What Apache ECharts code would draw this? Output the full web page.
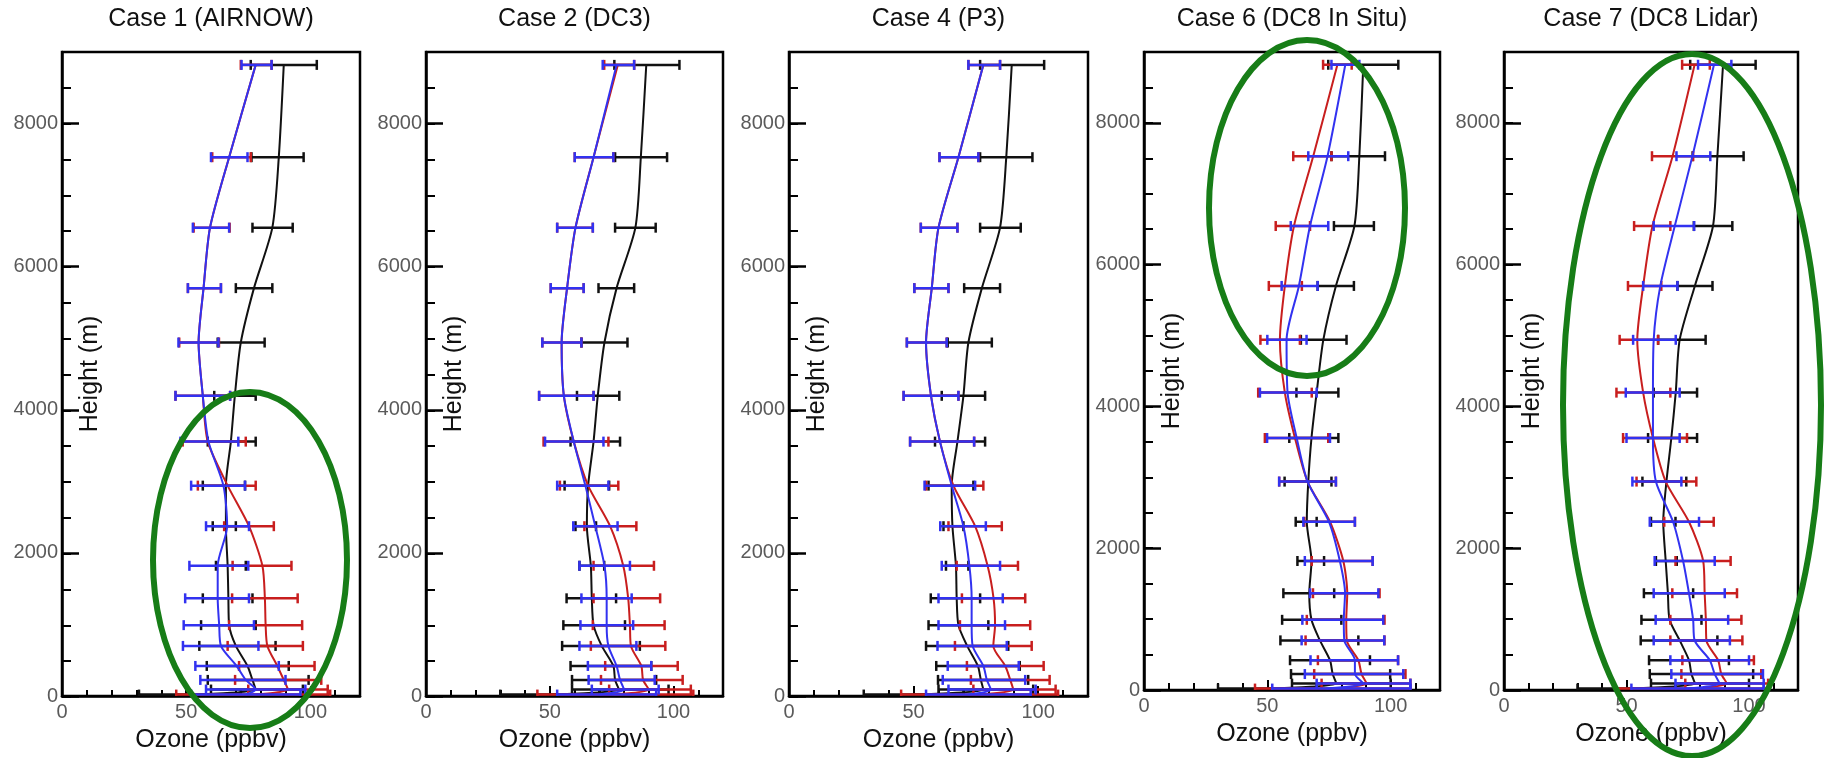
<!DOCTYPE html>
<html><head><meta charset="utf-8">
<script src="https://cdn.jsdelivr.net/npm/echarts@6/dist/echarts.min.js"></script>
<style>html,body{margin:0;padding:0;background:#fff}#c{width:1830px;height:758px}</style>
</head><body><div id="c"></div>
<script>
// ---------- DATA ----------
const heights = [8820, 7530, 6545, 5700, 4940, 4195, 3555, 2940, 2373, 1820, 1365, 990, 700, 420, 225, 90, 20];
const titles = ['Case 1 (AIRNOW)', 'Case 2 (DC3)', 'Case 4 (P3)', 'Case 6 (DC8 In Situ)', 'Case 7 (DC8 Lidar)'];
const xName = 'Ozone (ppbv)';
const yName = 'Height (m)';

// Case 1 (AIRNOW)
const c1ObsMean  = [89.3, 87.3, 84.7, 77.3, 72.0, 69.6, 68.0, 66.0, 66.0, 66.7, 67.0, 67.3, 70.0, 74.7, 76.7, 78.0, 52.0];
const c1ObsLo    = [76.0, 76.3, 76.7, 70.0, 62.7, 61.3, 58.7, 56.7, 60.7, 62.0, 56.7, 56.0, 55.3, 58.3, 58.7, 60.0, 31.0];
const c1ObsHi    = [102.6, 97.3, 92.9, 84.7, 81.6, 78.0, 78.0, 73.7, 70.0, 74.0, 76.7, 78.0, 86.0, 91.3, 99.3, 97.0, 72.0];
const c1RedMean  = [78.0, 67.3, 59.6, 57.0, 55.0, 56.7, 58.7, 66.7, 75.3, 80.7, 81.7, 82.0, 82.7, 86.7, 89.3, 91.0, 77.0];
const c1RedLo    = [72.0, 60.5, 53.0, 50.7, 47.2, 45.7, 48.6, 54.7, 65.3, 68.7, 68.5, 67.3, 66.7, 71.3, 69.7, 75.0, 46.0];
const c1RedHi    = [84.4, 76.0, 67.5, 64.0, 63.2, 67.7, 74.0, 78.0, 85.3, 92.4, 94.9, 96.7, 97.0, 101.7, 104.4, 107.0, 108.0];
const c1BlueMean = [78.0, 67.3, 59.6, 57.0, 55.0, 56.7, 59.0, 65.0, 66.5, 62.7, 62.7, 63.3, 64.0, 70.3, 74.0, 78.0, 74.0];
const c1BlueLo   = [72.3, 60.0, 52.7, 50.7, 46.9, 45.7, 47.7, 52.0, 58.0, 51.3, 49.6, 49.0, 48.7, 53.7, 55.7, 58.0, 52.0];
const c1BlueHi   = [84.4, 74.7, 67.3, 64.0, 63.0, 67.7, 71.0, 73.7, 75.3, 75.0, 75.3, 77.3, 79.1, 87.3, 90.0, 98.0, 96.0];

// Case 2 (DC3)
const c2ObsMean  = [89.0, 86.8, 84.6, 77.0, 72.1, 69.4, 67.7, 65.5, 65.0, 66.6, 67.0, 67.7, 71.0, 75.7, 76.4, 78.0, 50.0];
const c2ObsLo    = [76.1, 76.4, 76.4, 69.7, 62.8, 61.0, 58.4, 56.0, 60.4, 62.0, 56.8, 55.5, 55.0, 58.4, 59.0, 59.0, 30.0];
const c2ObsHi    = [102.4, 97.4, 92.8, 84.1, 81.4, 78.1, 78.4, 74.0, 68.7, 72.0, 76.8, 80.4, 86.4, 91.0, 93.0, 98.0, 70.0];
const c2RedMean  = [77.5, 67.7, 60.4, 57.0, 54.8, 55.7, 59.7, 65.5, 74.4, 79.7, 81.7, 82.4, 82.8, 87.0, 87.7, 90.0, 76.0];
const c2RedLo    = [72.0, 60.1, 53.0, 50.4, 47.0, 45.7, 47.5, 54.1, 64.0, 67.7, 67.7, 67.4, 66.6, 72.4, 70.7, 74.0, 45.0];
const c2RedHi    = [84.1, 75.7, 67.4, 63.7, 62.8, 67.7, 73.7, 77.7, 85.0, 92.1, 94.6, 96.4, 96.7, 101.7, 103.7, 107.0, 108.0];
const c2BlueMean = [77.0, 67.7, 60.4, 57.0, 54.8, 55.7, 59.7, 64.4, 68.4, 72.1, 73.0, 73.0, 73.7, 77.0, 78.4, 80.0, 70.0];
const c2BlueLo   = [71.4, 60.1, 53.0, 50.4, 47.0, 45.7, 48.1, 53.0, 59.5, 62.0, 62.8, 62.4, 62.0, 65.4, 65.7, 67.0, 53.0];
const c2BlueHi   = [84.1, 75.7, 67.4, 63.7, 62.8, 67.7, 71.7, 73.7, 77.4, 82.4, 83.1, 83.7, 85.0, 91.0, 92.4, 94.0, 93.0];

// Case 4 (P3)
const c4ObsMean  = [89.4, 87.2, 84.7, 77.4, 72.0, 70.0, 67.6, 65.3, 65.6, 67.0, 67.3, 68.0, 71.5, 75.8, 77.0, 78.0, 50.0];
const c4ObsLo    = [76.7, 76.7, 76.7, 70.3, 63.7, 61.3, 58.6, 56.0, 62.0, 63.0, 56.9, 56.0, 55.0, 59.1, 59.8, 60.0, 30.0];
const c4ObsHi    = [102.4, 97.7, 93.0, 84.7, 81.4, 78.7, 78.7, 74.0, 70.0, 72.0, 76.7, 80.0, 88.0, 92.6, 96.0, 98.0, 70.0];
const c4RedMean  = [78.0, 68.0, 60.0, 57.3, 55.0, 57.0, 60.6, 66.0, 74.7, 79.7, 82.1, 82.7, 82.0, 86.8, 88.8, 90.0, 77.0];
const c4RedLo    = [72.0, 60.4, 52.9, 50.3, 47.3, 46.0, 48.6, 55.0, 64.0, 67.3, 69.4, 68.6, 66.6, 71.4, 73.0, 74.0, 45.0];
const c4RedHi    = [84.7, 76.0, 67.6, 64.0, 63.3, 68.0, 74.3, 78.0, 85.4, 91.9, 94.8, 96.8, 97.4, 102.2, 104.6, 107.0, 108.0];
const c4BlueMean = [78.0, 68.0, 60.0, 57.3, 55.0, 57.0, 60.6, 65.3, 70.0, 72.4, 73.3, 73.3, 73.7, 78.0, 79.4, 81.0, 72.0];
const c4BlueLo   = [72.0, 60.4, 52.9, 50.3, 47.3, 46.0, 48.6, 54.4, 60.7, 61.3, 60.0, 60.0, 59.6, 63.7, 61.7, 64.0, 55.0];
const c4BlueHi   = [84.7, 76.0, 67.6, 64.0, 63.3, 68.0, 74.3, 74.7, 79.0, 84.7, 85.8, 86.7, 87.4, 92.2, 94.8, 99.0, 97.0];

// Case 6 (DC8 In Situ)
const c6ObsMean  = [88.9, 87.3, 85.3, 77.8, 72.7, 70.0, 67.9, 66.6, 66.0, 67.9, 67.0, 67.9, 71.3, 75.4, 76.5, 78.0, 50.0];
const c6ObsLo    = [74.7, 76.0, 77.0, 70.4, 63.6, 61.8, 58.9, 57.0, 61.5, 62.2, 56.5, 56.0, 55.3, 59.2, 59.6, 60.0, 30.0];
const c6ObsHi    = [103.1, 97.7, 93.2, 85.1, 82.1, 78.8, 78.8, 76.0, 70.0, 73.0, 77.1, 80.0, 86.9, 91.6, 99.8, 100.0, 70.0];
const c6RedMean  = [78.4, 68.6, 60.8, 57.1, 55.1, 57.1, 61.2, 66.3, 75.4, 80.8, 82.4, 82.0, 82.2, 86.9, 88.2, 90.3, 76.0];
const c6RedLo    = [72.6, 60.5, 53.4, 50.6, 47.2, 46.3, 49.0, 54.8, 65.0, 68.0, 68.5, 66.0, 65.5, 70.5, 69.0, 72.0, 45.0];
const c6RedHi    = [84.2, 76.0, 67.3, 64.0, 63.2, 68.0, 74.7, 77.8, 85.5, 92.7, 95.5, 97.5, 97.5, 103.0, 106.0, 108.0, 108.0];
const c6BlueMean = [81.6, 74.4, 67.3, 62.8, 57.8, 58.2, 61.9, 66.3, 75.0, 79.4, 81.5, 81.0, 81.2, 85.5, 85.5, 89.0, 74.0];
const c6BlueLo   = [76.0, 66.6, 59.5, 55.8, 50.0, 47.0, 49.9, 54.8, 64.6, 65.2, 67.3, 64.2, 63.9, 67.5, 65.2, 70.0, 52.0];
const c6BlueHi   = [87.3, 82.8, 74.7, 70.4, 65.9, 70.0, 75.4, 77.8, 85.5, 92.7, 95.0, 97.0, 97.4, 103.0, 105.1, 108.0, 108.0];

// Case 7 (DC8 Lidar)
const c7ObsMean  = [89.4, 87.1, 85.3, 77.9, 71.7, 70.1, 68.3, 66.3, 65.0, 66.0, 66.9, 67.6, 71.7, 75.5, 76.5, 78.0, 50.0];
const c7ObsLo    = [76.0, 77.0, 77.5, 70.8, 62.9, 61.1, 58.8, 56.5, 60.0, 62.0, 57.1, 56.1, 55.8, 59.2, 59.5, 60.0, 30.0];
const c7ObsHi    = [102.7, 97.8, 93.2, 85.1, 82.3, 78.8, 78.8, 74.4, 70.0, 70.5, 77.2, 80.6, 87.1, 91.8, 101.7, 100.0, 70.0];
const c7RedMean  = [77.8, 68.8, 60.6, 56.8, 54.4, 56.8, 60.8, 66.0, 75.5, 81.3, 81.9, 82.4, 82.6, 87.4, 88.7, 91.0, 77.0];
const c7RedLo    = [72.7, 60.4, 53.1, 50.6, 47.2, 45.9, 48.6, 54.1, 65.4, 70.0, 68.7, 67.9, 67.9, 72.8, 72.4, 74.0, 45.0];
const c7RedHi    = [84.0, 77.2, 67.9, 64.2, 62.9, 67.9, 74.7, 78.5, 85.6, 92.5, 95.1, 96.9, 97.3, 102.0, 105.0, 107.8, 108.0];
const c7BlueMean = [85.7, 76.9, 69.7, 63.8, 61.1, 60.8, 60.8, 62.0, 69.0, 73.1, 75.5, 77.2, 77.8, 84.0, 86.0, 88.0, 74.0];
const c7BlueLo   = [79.2, 70.4, 61.1, 56.8, 52.7, 49.7, 50.0, 52.4, 59.5, 61.5, 61.1, 61.9, 61.1, 67.9, 68.3, 70.0, 52.0];
const c7BlueHi   = [92.8, 84.2, 77.6, 70.8, 70.1, 71.7, 71.7, 72.4, 79.6, 86.0, 90.1, 91.5, 92.2, 100.0, 105.7, 106.0, 106.0];

// ---------- LAYOUT / STYLE ----------
const FONT = 'Liberation Sans, Arial, Helvetica, sans-serif';
const panels = [
  [[c1ObsMean, c1ObsLo, c1ObsHi], [c1RedMean, c1RedLo, c1RedHi], [c1BlueMean, c1BlueLo, c1BlueHi]],
  [[c2ObsMean, c2ObsLo, c2ObsHi], [c2RedMean, c2RedLo, c2RedHi], [c2BlueMean, c2BlueLo, c2BlueHi]],
  [[c4ObsMean, c4ObsLo, c4ObsHi], [c4RedMean, c4RedLo, c4RedHi], [c4BlueMean, c4BlueLo, c4BlueHi]],
  [[c6ObsMean, c6ObsLo, c6ObsHi], [c6RedMean, c6RedLo, c6RedHi], [c6BlueMean, c6BlueLo, c6BlueHi]],
  [[c7ObsMean, c7ObsLo, c7ObsHi], [c7RedMean, c7RedLo, c7RedHi], [c7BlueMean, c7BlueLo, c7BlueHi]]
];
const colors = ['#111111', '#c81e1e', '#3232f0'];
const rects = [
  {l: 62, t: 52, w: 298, h: 645},
  {l: 426, t: 52, w: 297, h: 645},
  {l: 789, t: 52, w: 299, h: 645},
  {l: 1144, t: 52, w: 296, h: 638},
  {l: 1504, t: 52, w: 294, h: 638}
];
const ellipses = [
  {cx: 250, cy: 560, rx: 97, ry: 168},
  {cx: 1307, cy: 208, rx: 98, ry: 168},
  {cx: 1692, cy: 405, rx: 129, ry: 351}
];

function errRender(color) {
  return function (params, api) {
    const a = api.coord([api.value(0), api.value(2)]);
    const b = api.coord([api.value(1), api.value(2)]);
    const cap = 5;
    const st = {stroke: color, lineWidth: 2.5, fill: 'none'};
    return {type: 'group', children: [
      {type: 'line', shape: {x1: a[0], y1: a[1], x2: b[0], y2: b[1]}, style: st},
      {type: 'line', shape: {x1: a[0], y1: a[1] - cap, x2: a[0], y2: a[1] + cap}, style: st},
      {type: 'line', shape: {x1: b[0], y1: b[1] - cap, x2: b[0], y2: b[1] + cap}, style: st}
    ]};
  };
}

const plainNum = v => String(v);
const grid = [], xAxis = [], yAxis = [], series = [], title = [];
rects.forEach((r, i) => {
  grid.push({left: r.l, top: r.t, width: r.w, height: r.h, show: true, borderColor: '#000', borderWidth: 2.5, backgroundColor: 'transparent'});
  grid.push({left: r.l, top: r.t, width: r.w, height: r.h, show: false});
  xAxis.push({
    gridIndex: 2 * i, type: 'value', min: 0, max: 120, interval: 50,
    axisLine: {show: true, onZero: false, lineStyle: {color: '#000', width: 2.5}},
    axisTick: {show: true, inside: true, length: 10, lineStyle: {color: '#000', width: 2}},
    axisLabel: {color: '#5a5a5a', fontSize: 20, margin: 6, showMaxLabel: false, fontFamily: FONT, formatter: plainNum},
    splitLine: {show: false},
    name: xName, nameLocation: 'middle', nameGap: 32,
    nameTextStyle: {fontSize: 25, color: '#111', fontFamily: FONT}
  });
  xAxis.push({
    gridIndex: 2 * i + 1, type: 'value', min: 0, max: 120, interval: 10,
    axisLine: {show: false}, axisLabel: {show: false}, splitLine: {show: false},
    axisTick: {show: true, inside: true, length: 7, lineStyle: {color: '#000', width: 2}}
  });
  yAxis.push({
    gridIndex: 2 * i, type: 'value', min: 0, max: 9000, interval: 2000,
    axisLine: {show: true, onZero: false, lineStyle: {color: '#000', width: 2.5}},
    axisTick: {show: true, inside: true, length: 17, lineStyle: {color: '#000', width: 2.5}},
    axisLabel: {color: '#5a5a5a', fontSize: 20, margin: 4, showMaxLabel: false, fontFamily: FONT, formatter: plainNum},
    splitLine: {show: false},
    name: yName, nameLocation: 'middle', nameGap: -41, nameRotate: 90,
    nameTextStyle: {fontSize: 25, color: '#111', fontFamily: FONT}
  });
  yAxis.push({
    gridIndex: 2 * i + 1, type: 'value', min: 0, max: 9000, interval: 500,
    axisLine: {show: false}, axisLabel: {show: false}, splitLine: {show: false},
    axisTick: {show: true, inside: true, length: 9, lineStyle: {color: '#000', width: 2}}
  });
  title.push({
    text: titles[i], left: r.l + r.w / 2, top: 7, textAlign: 'center', padding: 0,
    textStyle: {fontSize: 25, fontWeight: 'normal', color: '#111', fontFamily: FONT}
  });
  panels[i].forEach((s, k) => {
    const [mean, lo, hi] = s;
    series.push({
      type: 'custom', xAxisIndex: 2 * i, yAxisIndex: 2 * i, clip: true, silent: true,
      data: heights.map((h, j) => [lo[j], hi[j], h]),
      encode: {x: [0, 1], y: 2},
      renderItem: errRender(colors[k]), z: 2 + k * 2
    });
    series.push({
      type: 'line', xAxisIndex: 2 * i, yAxisIndex: 2 * i, clip: true, silent: true,
      data: heights.map((h, j) => [mean[j], h]),
      symbol: 'none', showSymbol: false, smooth: 0.25,
      lineStyle: {color: colors[k], width: 2}, z: 3 + k * 2
    });
  });
});

const chart = echarts.init(document.getElementById('c'), null, {renderer: 'canvas'});
chart.setOption({
  backgroundColor: '#fff',
  animation: false,
  title, grid, xAxis, yAxis, series,
  graphic: ellipses.map(e => ({
    type: 'ellipse', silent: true, z: 100,
    shape: {cx: e.cx, cy: e.cy, rx: e.rx, ry: e.ry},
    style: {fill: 'none', stroke: '#177d17', lineWidth: 6}
  }))
});
</script>
</body></html>
